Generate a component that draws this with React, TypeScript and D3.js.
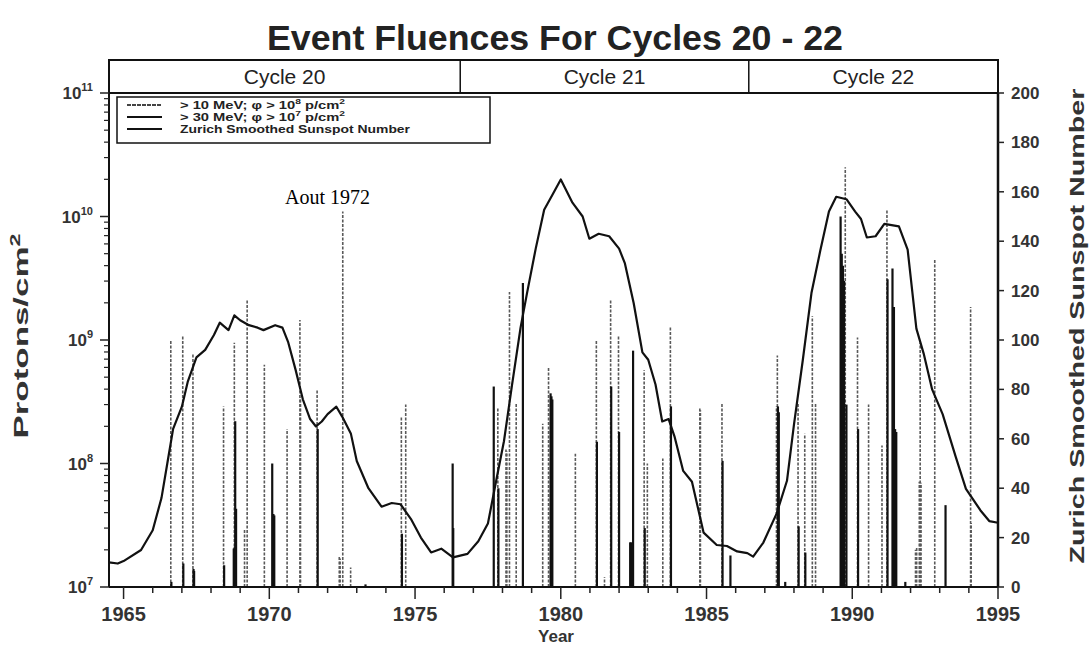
import React from "react";
import * as d3 from "d3";

// Zurich smoothed sunspot number (year, value)
const ssnYears = [1964.5, 1964.8, 1965.0, 1965.6, 1966.0, 1966.3, 1966.5, 1966.7, 1967.0, 1967.2, 1967.5, 1967.8, 1968.1, 1968.3, 1968.6, 1968.8, 1969.0, 1969.3, 1969.6, 1969.8, 1970.2, 1970.45, 1970.65, 1970.9, 1971.15, 1971.4, 1971.6, 1971.8, 1972.0, 1972.3, 1972.5, 1972.8, 1973.0, 1973.4, 1973.85, 1974.2, 1974.5, 1974.86, 1975.2, 1975.55, 1975.9, 1976.3, 1976.8, 1977.17, 1977.5, 1977.8, 1978.05, 1978.33, 1978.62, 1978.85, 1979.14, 1979.43, 1979.7, 1980.0, 1980.4, 1980.75, 1980.98, 1981.3, 1981.66, 1982.0, 1982.2, 1982.5, 1982.8, 1983.0, 1983.25, 1983.48, 1983.7, 1983.9, 1984.2, 1984.5, 1984.9, 1985.35, 1985.7, 1986.05, 1986.4, 1986.6, 1986.95, 1987.4, 1987.76, 1988.0, 1988.3, 1988.6, 1988.9, 1989.2, 1989.45, 1989.8, 1990.1, 1990.3, 1990.5, 1990.8, 1991.1, 1991.35, 1991.6, 1991.9, 1992.2, 1992.45, 1992.74, 1993.1, 1993.55, 1993.9, 1994.4, 1994.7, 1995.0];
const ssnValues = [10, 9.5, 10.5, 15, 23, 36, 50, 64, 73, 83, 93, 96, 102, 107, 104, 110, 108, 106, 105, 104, 106, 105, 99, 88, 76, 68, 65, 67, 70, 73, 69, 62, 51, 40, 32.5, 34, 33.5, 27.5, 20, 14, 15.5, 12, 13.4, 18.5, 25.7, 44, 59, 82, 105, 119.5, 137, 152.7, 158.5, 165, 155.6, 150, 141, 143, 142, 137, 131, 115, 95, 92, 82, 67, 68, 61, 47, 42.6, 22, 17, 16.6, 14.4, 13.7, 12.3, 18, 29.6, 43, 65.7, 91.6, 119, 136, 152, 158, 157, 152, 149, 141.5, 142, 147, 146.5, 146, 136.6, 104.6, 94.5, 80, 70, 52.7, 39.7, 31, 26.7, 26];

// Proton events: >10 MeV (phi > 1e8) and >30 MeV (phi > 1e7)
const p10Years = [1966.62, 1967.03, 1967.38, 1968.43, 1968.80, 1969.15, 1969.24, 1969.83, 1970.61, 1971.05, 1971.07, 1971.64, 1972.40, 1972.43, 1972.52, 1972.79, 1974.53, 1974.68, 1977.84, 1978.12, 1978.15, 1978.24, 1978.47, 1979.38, 1979.58, 1980.50, 1981.22, 1981.50, 1981.71, 1981.98, 1982.86, 1982.97, 1983.50, 1983.76, 1984.77, 1984.79, 1985.53, 1987.40, 1987.43, 1988.14, 1988.37, 1988.63, 1988.74, 1989.76, 1990.18, 1990.56, 1991.02, 1991.19, 1992.17, 1992.21, 1992.30, 1992.33, 1992.36, 1992.83, 1994.06, 1994.08];
const p10Fluence = [1.0e9, 1.1e9, 7.7e8, 2.9e8, 9.5e8, 2.9e7, 2.1e9, 6.3e8, 1.9e8, 1.45e9, 3.4e8, 3.9e8, 1.8e7, 1.7e7, 1.1e10, 1.44e7, 2.4e8, 3.0e8, 2.8e8, 1.3e8, 1.25e8, 2.45e9, 3.1e8, 2.1e8, 6.1e8, 1.2e8, 1.0e9, 1.2e7, 2.1e9, 1.1e9, 5.7e8, 1.0e8, 1.1e8, 1.27e9, 2.8e8, 2.7e8, 3.1e8, 2.9e8, 7.5e8, 3.1e8, 1.74e8, 1.56e9, 3.1e8, 2.5e10, 1.05e9, 3.0e8, 1.4e8, 1.15e10, 2.0e7, 2.1e7, 7.1e7, 9.5e8, 7.0e7, 4.5e9, 1.85e9, 3.3e7];
const p30Years = [1966.64, 1967.05, 1967.40, 1967.42, 1968.45, 1968.78, 1968.81, 1968.83, 1968.86, 1970.10, 1970.14, 1970.17, 1971.66, 1973.30, 1974.55, 1976.29, 1976.31, 1977.70, 1977.86, 1978.70, 1979.65, 1979.68, 1979.71, 1981.24, 1981.73, 1982.00, 1982.38, 1982.42, 1982.48, 1982.88, 1983.78, 1985.55, 1985.82, 1987.45, 1987.48, 1987.70, 1988.16, 1988.39, 1989.60, 1989.64, 1989.68, 1989.72, 1989.80, 1990.20, 1991.21, 1991.38, 1991.43, 1991.47, 1991.51, 1991.82, 1993.20];
const p30Fluence = [1.1e7, 1.55e7, 1.4e7, 1.35e7, 1.5e7, 2.05e7, 2.1e7, 2.2e8, 4.3e7, 1.0e8, 3.9e7, 3.8e7, 1.9e8, 1.05e7, 2.7e7, 1.0e8, 3.0e7, 4.2e8, 6.3e7, 2.9e9, 3.7e8, 3.5e8, 3.3e8, 1.5e8, 4.2e8, 1.8e8, 2.3e7, 2.3e7, 8.2e8, 3.0e7, 2.9e8, 1.05e8, 1.8e7, 2.9e8, 2.6e8, 1.1e7, 3.1e7, 1.9e7, 1.0e10, 5.0e9, 4.0e9, 3.0e9, 3.0e8, 1.9e8, 3.1e9, 3.8e9, 1.85e9, 1.9e8, 1.8e8, 1.1e7, 4.6e7];

const cycleNames = ["Cycle 20", "Cycle 21", "Cycle 22"];
const cycleBounds = [1964.5, 1976.55, 1986.45, 1995];
const yearTicks = [1965, 1970, 1975, 1980, 1985, 1990, 1995];
const minorYears = d3.range(1965, 1996);
const sunspotTicks = [0, 20, 40, 60, 80, 100, 120, 140, 160, 180, 200];
const decadeExps = [7, 8, 9, 10, 11];
const minorMult = [2, 3, 4, 5, 6, 7, 8, 9];

const FONT = "'Liberation Sans', Arial, Helvetica, sans-serif";

export default function App() {
  const W = 1091, H = 647;
  const L = 109, R = 998, T = 93, B = 587;
  const x = d3.scaleLinear().domain([1964.5, 1995]).range([L, R]);
  const yL = d3.scaleLog().domain([1e7, 1e11]).range([B, T]);
  const yR = d3.scaleLinear().domain([0, 200]).range([B, T]);
  const line = d3.line<number>().x((_, i) => x(ssnYears[i])).y((v) => yR(v));
  const ssnPath = line(ssnValues) || "";

  const minorLog: number[] = [];
  decadeExps.slice(0, -1).forEach((e) => minorMult.forEach((m) => minorLog.push(m * Math.pow(10, e))));

  return (
    <svg width={W} height={H} style={{ position: "absolute", left: 0, top: 0, background: "#fff" }} fontFamily={FONT}>
      <rect width={W} height={H} fill="#fff" />
      {/* Title */}
      <text x={555} y={50} textAnchor="middle" fontSize={35} fontWeight="bold" fill="#222" textLength={576} lengthAdjust="spacingAndGlyphs">Event Fluences For Cycles 20 - 22</text>

      {/* Cycle header */}
      <rect x={L} y={60} width={R - L} height={T - 60} fill="none" stroke="#111" strokeWidth={2} />
      {cycleBounds.slice(1, -1).map((b, i) => (
        <line key={"cb" + i} x1={x(b)} x2={x(b)} y1={60} y2={T} stroke="#111" strokeWidth={1.5} />
      ))}
      {cycleNames.map((n, i) => (
        <text key={n} x={(x(cycleBounds[i]) + x(cycleBounds[i + 1])) / 2} y={84} textAnchor="middle" fontSize={21} fill="#222">{n}</text>
      ))}

      {/* Bars >10 MeV */}
      {p10Years.map((yr, i) => (
        <line key={"a" + i} x1={x(yr)} x2={x(yr)} y1={B} y2={yL(p10Fluence[i])} stroke="#5a5a5a" strokeWidth={1.6} strokeDasharray="3 1.5" />
      ))}
      {/* Bars >30 MeV */}
      {p30Years.map((yr, i) => (
        <line key={"b" + i} x1={x(yr)} x2={x(yr)} y1={B} y2={yL(p30Fluence[i])} stroke="#111" strokeWidth={2.2} />
      ))}

      {/* Sunspot curve */}
      <path d={ssnPath} fill="none" stroke="#111" strokeWidth={2.2} strokeLinejoin="round" />

      {/* Annotation */}
      <text x={285} y={204} fontFamily="'Liberation Serif', 'Times New Roman', serif" fontSize={20} fill="#000">Aout 1972</text>

      {/* Legend */}
      <rect x={117} y={97} width={373} height={46} fill="#fff" stroke="#111" strokeWidth={1.5} />
      <line x1={127} x2={162} y1={105} y2={105} stroke="#444" strokeWidth={2.2} strokeDasharray="4 1" />
      <line x1={127} x2={162} y1={117} y2={117} stroke="#111" strokeWidth={2.2} />
      <line x1={127} x2={162} y1={129} y2={129} stroke="#111" strokeWidth={2.2} />
      <text x={180} y={109} fontSize={11.5} fontWeight="bold" fill="#222" textLength={165} lengthAdjust="spacingAndGlyphs">{"> 10 MeV; \u03C6 > 10"}<tspan dy={-5} fontSize={8}>8</tspan><tspan dy={5}>{" p/cm"}</tspan><tspan dy={-5} fontSize={8}>2</tspan></text>
      <text x={180} y={121} fontSize={11.5} fontWeight="bold" fill="#222" textLength={165} lengthAdjust="spacingAndGlyphs">{"> 30 MeV; \u03C6 > 10"}<tspan dy={-5} fontSize={8}>7</tspan><tspan dy={5}>{" p/cm"}</tspan><tspan dy={-5} fontSize={8}>2</tspan></text>
      <text x={180} y={133} fontSize={11.5} fontWeight="bold" fill="#222" textLength={230} lengthAdjust="spacingAndGlyphs">Zurich Smoothed Sunspot Number</text>

      {/* Axes lines */}
      <line x1={L} x2={L} y1={T} y2={B} stroke="#111" strokeWidth={2} />
      <line x1={R} x2={R} y1={T} y2={B} stroke="#111" strokeWidth={2.5} />
      <line x1={L} x2={R} y1={B} y2={B} stroke="#111" strokeWidth={2} />

      {/* Left log ticks */}
      {minorLog.map((v, i) => (
        <line key={"ml" + i} x1={L - 5} x2={L} y1={yL(v)} y2={yL(v)} stroke="#222" strokeWidth={1.2} />
      ))}
      {decadeExps.map((e) => (
        <g key={"d" + e}>
          <line x1={L - 9} x2={L} y1={yL(Math.pow(10, e))} y2={yL(Math.pow(10, e))} stroke="#222" strokeWidth={1.5} />
          <text x={93} y={yL(Math.pow(10, e)) + 6} textAnchor="end" fontSize={17} fontWeight="bold" fill="#333">10<tspan dy={-8} fontSize={11}>{String(e)}</tspan></text>
        </g>
      ))}

      {/* Right linear ticks */}
      {sunspotTicks.map((v) => (
        <g key={"r" + v}>
          <line x1={R} x2={R + 6} y1={yR(v)} y2={yR(v)} stroke="#222" strokeWidth={1.5} />
          <text x={1011} y={yR(v) + 6} fontSize={17} fontWeight="bold" fill="#333">{v}</text>
        </g>
      ))}

      {/* Bottom ticks */}
      {minorYears.map((yr) => (
        <line key={"my" + yr} x1={x(yr)} x2={x(yr)} y1={B} y2={B + (yr % 5 === 0 ? 12 : 6)} stroke="#222" strokeWidth={1.5} />
      ))}
      {yearTicks.map((yr) => (
        <text key={"yt" + yr} x={x(yr)} y={621} textAnchor="middle" fontSize={20} fontWeight="bold" fill="#333">{yr}</text>
      ))}

      {/* Axis titles */}
      <text x={556} y={642} textAnchor="middle" fontSize={17} fontWeight="bold" fill="#333">Year</text>
      <text transform={`translate(28,336) rotate(-90)`} textAnchor="middle" fontSize={21} fontWeight="bold" fill="#333" textLength={205} lengthAdjust="spacingAndGlyphs">Protons/cm<tspan dy={-8} fontSize={14}>2</tspan></text>
      <text transform={`translate(1084,326) rotate(-90)`} textAnchor="middle" fontSize={21} fontWeight="bold" fill="#333" textLength={475} lengthAdjust="spacingAndGlyphs">Zurich Smoothed Sunspot Number</text>
    </svg>
  );
}
